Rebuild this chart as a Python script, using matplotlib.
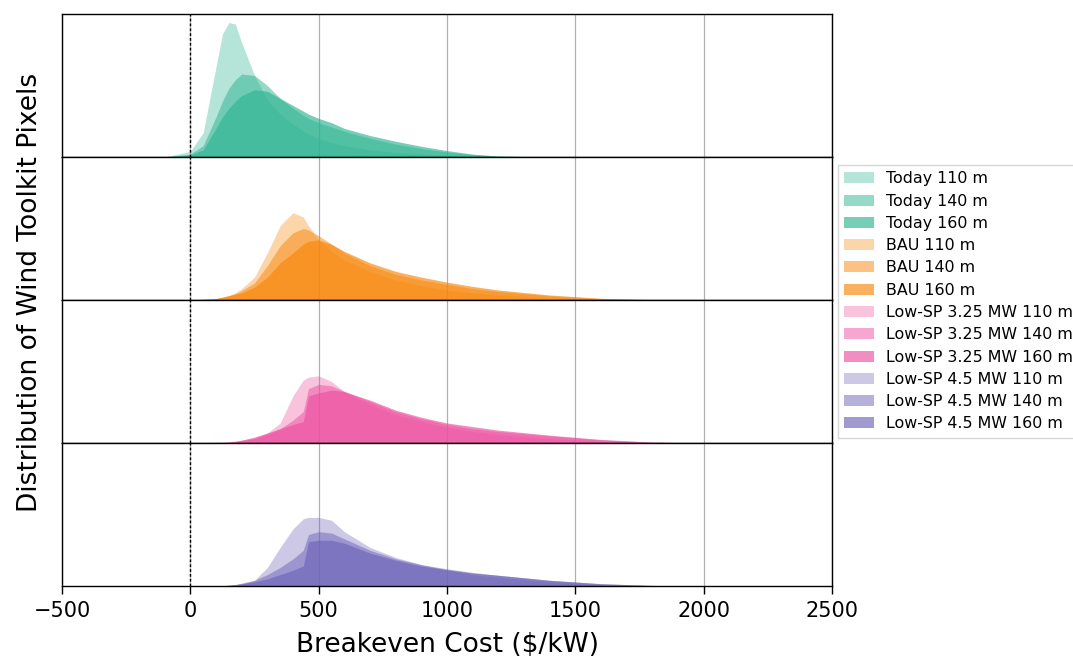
import numpy as np
import matplotlib
matplotlib.use("Agg")
import matplotlib.pyplot as plt

# breakeven cost grid ($/kW) shared by all distributions
cost = [-100, 0, 50, 100, 125, 150, 175, 200, 250, 300, 350, 400, 440, 460,
        500, 550, 600, 700, 800, 900, 1000, 1100, 1200, 1400, 1600, 1800, 2000]

today_110 = [0, 0.04, 0.17, 0.63, 0.86, 0.94, 0.93, 0.8, 0.57, 0.4, 0.3, 0.23, 0.18, 0.16,
             0.13, 0.1, 0.08, 0.05, 0.03, 0.02, 0.01, 0.005, 0, 0, 0, 0, 0]
today_140 = [0, 0.02, 0.08, 0.28, 0.39, 0.48, 0.54, 0.58, 0.57, 0.5, 0.41, 0.34, 0.29, 0.27,
             0.24, 0.21, 0.18, 0.13, 0.09, 0.06, 0.035, 0.018, 0.007, 0, 0, 0, 0]
today_160 = [0, 0.015, 0.05, 0.2, 0.28, 0.34, 0.39, 0.43, 0.47, 0.46, 0.41, 0.36, 0.32, 0.3,
             0.27, 0.24, 0.2, 0.15, 0.11, 0.075, 0.045, 0.02, 0.006, 0, 0, 0, 0]

bau_110 = [0, 0, 0, 0.01, 0.015, 0.03, 0.05, 0.08, 0.16, 0.33, 0.52, 0.61, 0.58, 0.52,
           0.42, 0.34, 0.28, 0.2, 0.14, 0.1, 0.07, 0.05, 0.035, 0.015, 0.004, 0, 0]
bau_140 = [0, 0, 0.005, 0.01, 0.02, 0.03, 0.045, 0.065, 0.12, 0.24, 0.38, 0.47, 0.5, 0.49,
           0.45, 0.39, 0.33, 0.24, 0.18, 0.14, 0.11, 0.08, 0.06, 0.03, 0.01, 0.002, 0]
bau_160 = [0, 0, 0.005, 0.01, 0.02, 0.03, 0.04, 0.05, 0.09, 0.16, 0.26, 0.33, 0.39, 0.41,
           0.42, 0.39, 0.34, 0.26, 0.2, 0.16, 0.125, 0.095, 0.07, 0.035, 0.012, 0.002, 0]

lsp325_110 = [0, 0, 0, 0.005, 0.007, 0.01, 0.015, 0.02, 0.04, 0.07, 0.14, 0.33, 0.44, 0.46,
              0.47, 0.43, 0.36, 0.27, 0.2, 0.15, 0.11, 0.08, 0.06, 0.03, 0.012, 0.002, 0]
lsp325_140 = [0, 0, 0, 0, 0.002, 0.005, 0.01, 0.015, 0.03, 0.06, 0.1, 0.16, 0.22, 0.38,
              0.41, 0.4, 0.36, 0.29, 0.22, 0.17, 0.13, 0.1, 0.08, 0.05, 0.022, 0.006, 0]
lsp325_160 = [0, 0, 0, 0, 0.002, 0.005, 0.01, 0.02, 0.04, 0.07, 0.1, 0.13, 0.15, 0.33,
              0.35, 0.37, 0.36, 0.3, 0.23, 0.18, 0.14, 0.115, 0.09, 0.055, 0.025, 0.006, 0]

lsp45_110 = [0, 0, 0, 0, 0.002, 0.005, 0.01, 0.015, 0.04, 0.13, 0.27, 0.4, 0.47, 0.48,
             0.48, 0.46, 0.38, 0.27, 0.2, 0.15, 0.11, 0.08, 0.06, 0.03, 0.01, 0.002, 0]
lsp45_140 = [0, 0, 0, 0, 0.002, 0.005, 0.01, 0.02, 0.04, 0.08, 0.13, 0.19, 0.25, 0.36,
             0.38, 0.37, 0.33, 0.25, 0.19, 0.15, 0.12, 0.095, 0.075, 0.04, 0.016, 0.004, 0]
lsp45_160 = [0, 0, 0, 0, 0.002, 0.005, 0.01, 0.015, 0.03, 0.05, 0.08, 0.11, 0.14, 0.31,
             0.32, 0.32, 0.3, 0.23, 0.18, 0.14, 0.115, 0.09, 0.075, 0.04, 0.016, 0.004, 0]

scenarios = ["Today", "BAU", "Low-SP 3.25 MW", "Low-SP 4.5 MW"]
heights = ["110 m", "140 m", "160 m"]
curves = [[today_110, today_140, today_160],
          [bau_110, bau_140, bau_160],
          [lsp325_110, lsp325_140, lsp325_160],
          [lsp45_110, lsp45_140, lsp45_160]]
colors = ["#2db491", "#f8870a", "#ee50a0", "#6e64b9"]
alphas = [0.35, 0.5, 0.65]

fig, axes = plt.subplots(4, 1, figsize=(10.73, 6.6), dpi=100, sharex=True)
fig.subplots_adjust(left=0.0578, right=0.7754, top=0.9788, bottom=0.1121, hspace=0)

for ax, name, group, col in zip(axes, scenarios, curves, colors):
    for h, y, a in zip(heights, group, alphas):
        ax.fill_between(cost, 0, y, color=col, alpha=a, linewidth=0,
                        label=name + " " + h)
    ax.axvline(0, color="black", linestyle="--", linewidth=1, dashes=(2, 1.5), zorder=5)
    ax.set_xlim(-500, 2500)
    ax.set_ylim(0, 1)
    ax.set_yticks([])
    ax.grid(axis="x", color="#b0b0b0", linewidth=0.9)
    ax.set_axisbelow(True)
    for s in ax.spines.values():
        s.set_color("black")
        s.set_linewidth(1)
    ax.tick_params(axis="x", length=0)

axes[-1].set_xticks([-500, 0, 500, 1000, 1500, 2000, 2500])
axes[-1].tick_params(axis="x", length=6, width=1, labelsize=15, pad=5)
axes[-1].set_xlabel("Breakeven Cost ($/kW)", fontsize=19, labelpad=8)

fig.text(0.028, 0.557, "Distribution of Wind Toolkit Pixels", rotation=90,
         fontsize=19, ha="center", va="center")

handles = []
labels = []
for ax in axes:
    hd, lb = ax.get_legend_handles_labels()
    handles += hd
    labels += lb
fig.legend(handles, labels, loc="upper left", bbox_to_anchor=(838 / 1073, 1 - 165 / 660),
           fontsize=11.4, handlelength=1.9, handletextpad=0.7, labelspacing=0.46,
           borderaxespad=0, fancybox=False)

fig.savefig("out.png", dpi=100)
